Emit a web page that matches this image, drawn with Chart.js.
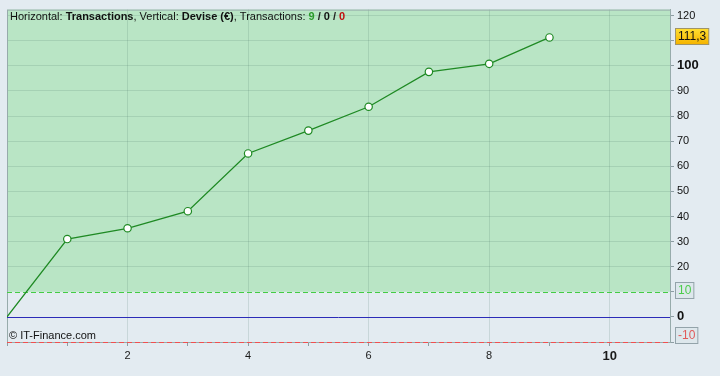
<!DOCTYPE html>
<html>
<head>
<meta charset="utf-8">
<script src="https://cdn.jsdelivr.net/npm/chart.js@4/dist/chart.umd.min.js"></script>
<style>
  html, body { margin: 0; padding: 0; background: #e3ebf1; }
  canvas { display: block; }
</style>
</head>
<body>
<canvas id="chart-equity" width="720" height="376"></canvas>
<script>
// numéro de transaction et solde cumulé (€)
const transactions = [0, 1, 2, 3, 4, 5, 6, 7, 8, 9]
const solde = [0, 31.0, 35.3, 42.1, 65.1, 74.2, 83.7, 97.6, 100.8, 111.3]
const yTicks = [-10, 0, 10, 20, 30, 40, 50, 60, 70, 80, 90, 100, 110, 120]
const xLabels = [2, 4, 6, 8, 10]
const seuilHaut = 10
const seuilBas = -10
const dernier = 111.3
const titreParts = [
  ['Horizontal: ', 'normal', '#111'],
  ['Transactions', 'bold', '#111'],
  [', Vertical: ', 'normal', '#111'],
  ['Devise (€)', 'bold', '#111'],
  [', Transactions: ', 'normal', '#111'],
  ['9', 'bold', '#2a9a2a'],
  [' / ', 'bold', '#222'],
  ['0', 'bold', '#111'],
  [' / ', 'bold', '#222'],
  ['0', 'bold', '#c01010']
]

const FONT = '"Liberation Sans", Arial, sans-serif'

const fond = {
  id: 'fond',
  beforeDraw(chart) {
    const { ctx, chartArea: a, scales: { y } } = chart
    ctx.save()
    ctx.fillStyle = '#e3ebf1'
    ctx.fillRect(0, 0, chart.width, chart.height)
    const y10 = y.getPixelForValue(seuilHaut)
    ctx.fillStyle = '#b9e5c5'
    ctx.fillRect(a.left, a.top, a.right - a.left, y10 - a.top)
    ctx.restore()
  },
  beforeDatasetsDraw(chart) {
    const { ctx, chartArea: a, scales: { y } } = chart
    ctx.save()
    // cadre
    ctx.strokeStyle = '#97abab'
    ctx.lineWidth = 1
    ctx.strokeRect(a.left + 0.5, a.top + 0.5, a.right - a.left, a.bottom - a.top)
    // ligne zéro
    let p = Math.round(y.getPixelForValue(0)) + 0.5
    ctx.strokeStyle = '#2b2bb8'
    ctx.beginPath(); ctx.moveTo(a.left, p); ctx.lineTo(a.right, p); ctx.stroke()
    // seuils
    ctx.setLineDash([5, 3])
    p = Math.round(y.getPixelForValue(seuilHaut)) + 0.5
    ctx.strokeStyle = '#44cc44'
    ctx.beginPath(); ctx.moveTo(a.left, p); ctx.lineTo(a.right, p); ctx.stroke()
    p = Math.round(y.getPixelForValue(seuilBas)) + 0.5
    ctx.strokeStyle = '#f05050'
    ctx.beginPath(); ctx.moveTo(a.left, p); ctx.lineTo(a.right, p); ctx.stroke()
    ctx.restore()
  },
  afterDraw(chart) {
    const { ctx, chartArea: a, scales: { y } } = chart
    ctx.save()
    ctx.textBaseline = 'alphabetic'
    let x = 10
    titreParts.forEach(([t, w, c]) => {
      ctx.font = w + ' 11px ' + FONT
      ctx.fillStyle = c
      ctx.fillText(t, x, 20)
      x += ctx.measureText(t).width
    })
    ctx.font = '11px ' + FONT
    ctx.fillStyle = '#111'
    ctx.fillText('© IT-Finance.com', 9, 339)

    const boite = (txt, val, dy, fill, border, color) => {
      ctx.font = '12px ' + FONT
      const w = ctx.measureText(txt).width + 5
      const cy = Math.round(y.getPixelForValue(val)) + dy
      const bx = a.right + 5.5, by = cy - 8 + 0.5
      ctx.fillStyle = fill
      ctx.fillRect(bx, by, w, 16)
      ctx.strokeStyle = border
      ctx.lineWidth = 1
      ctx.strokeRect(bx, by, w, 16)
      ctx.fillStyle = color
      ctx.textBaseline = 'middle'
      ctx.fillText(txt, bx + 2.5, cy + 1)
    }
    const g = ctx.createLinearGradient(0, 28, 0, 44)
    g.addColorStop(0, '#ffe033')
    g.addColorStop(1, '#f5b400')
    boite(String(dernier).replace('.', ','), dernier, -1, g, '#a09468', '#111')
    boite(String(seuilHaut), seuilHaut, -2, '#dde7ec', '#93a3aa', '#4ccc4c')
    boite(String(seuilBas), seuilBas, -7, '#dde7ec', '#93a3aa', '#e05a5a')
    ctx.restore()
  }
}

new Chart(document.getElementById('chart-equity'), {
  type: 'line',
  data: {
    datasets: [{
      data: transactions.map((t, i) => ({ x: t, y: solde[i] })),
      borderColor: '#1f8a24',
      borderWidth: 1.3,
      pointBackgroundColor: '#ffffff',
      pointBorderColor: '#1f8a24',
      pointBorderWidth: 1.2,
      pointRadius: (c) => c.dataIndex === 0 ? 0 : 3.7,
      tension: 0
    }]
  },
  options: {
    responsive: false,
    animation: false,
    layout: { padding: { left: 7, top: 8, right: 0, bottom: 0 } },
    plugins: {
      legend: { display: false },
      tooltip: { enabled: false }
    },
    scales: {
      x: {
        type: 'linear',
        min: 0,
        max: 11,
        afterBuildTicks: (s) => { s.ticks = [0, 1, 2, 3, 4, 5, 6, 7, 8, 9, 10].map(v => ({ value: v })) },
        afterFit: (s) => { s.height = 34 },
        border: { display: true, color: '#97abab' },
        grid: {
          color: (c) => xLabels.includes(c.tick.value) ? 'rgba(70,110,100,0.17)' : 'rgba(0,0,0,0)',
          tickColor: '#8d9da3',
          tickLength: 4
        },
        ticks: {
          autoSkip: false,
          maxRotation: 0,
          padding: 3,
          color: '#1a1a1a',
          font: (c) => c.tick && c.tick.value === 10
            ? { family: FONT, size: 13, weight: 'bold' }
            : { family: FONT, size: 11 },
          callback: (v) => xLabels.includes(v) ? String(v) : ''
        }
      },
      y: {
        position: 'right',
        min: seuilBas,
        max: 122.4,
        afterBuildTicks: (s) => { s.ticks = yTicks.map(v => ({ value: v })) },
        afterFit: (s) => { s.width = 50 },
        border: { display: true, color: '#97abab' },
        grid: {
          color: (c) => [0, seuilHaut, seuilBas].includes(c.tick.value) ? 'rgba(0,0,0,0)' : 'rgba(70,110,100,0.17)',
          tickColor: '#8d9da3',
          tickLength: 4
        },
        ticks: {
          padding: 3,
          color: '#111',
          font: (c) => c.tick && (c.tick.value === 0 || c.tick.value === 100)
            ? { family: FONT, size: 13, weight: 'bold' }
            : { family: FONT, size: 11 },
          callback: (v) => [110, seuilHaut, seuilBas].includes(v) ? '' : String(v)
        }
      }
    }
  },
  plugins: [fond]
})
</script>
</body>
</html>
